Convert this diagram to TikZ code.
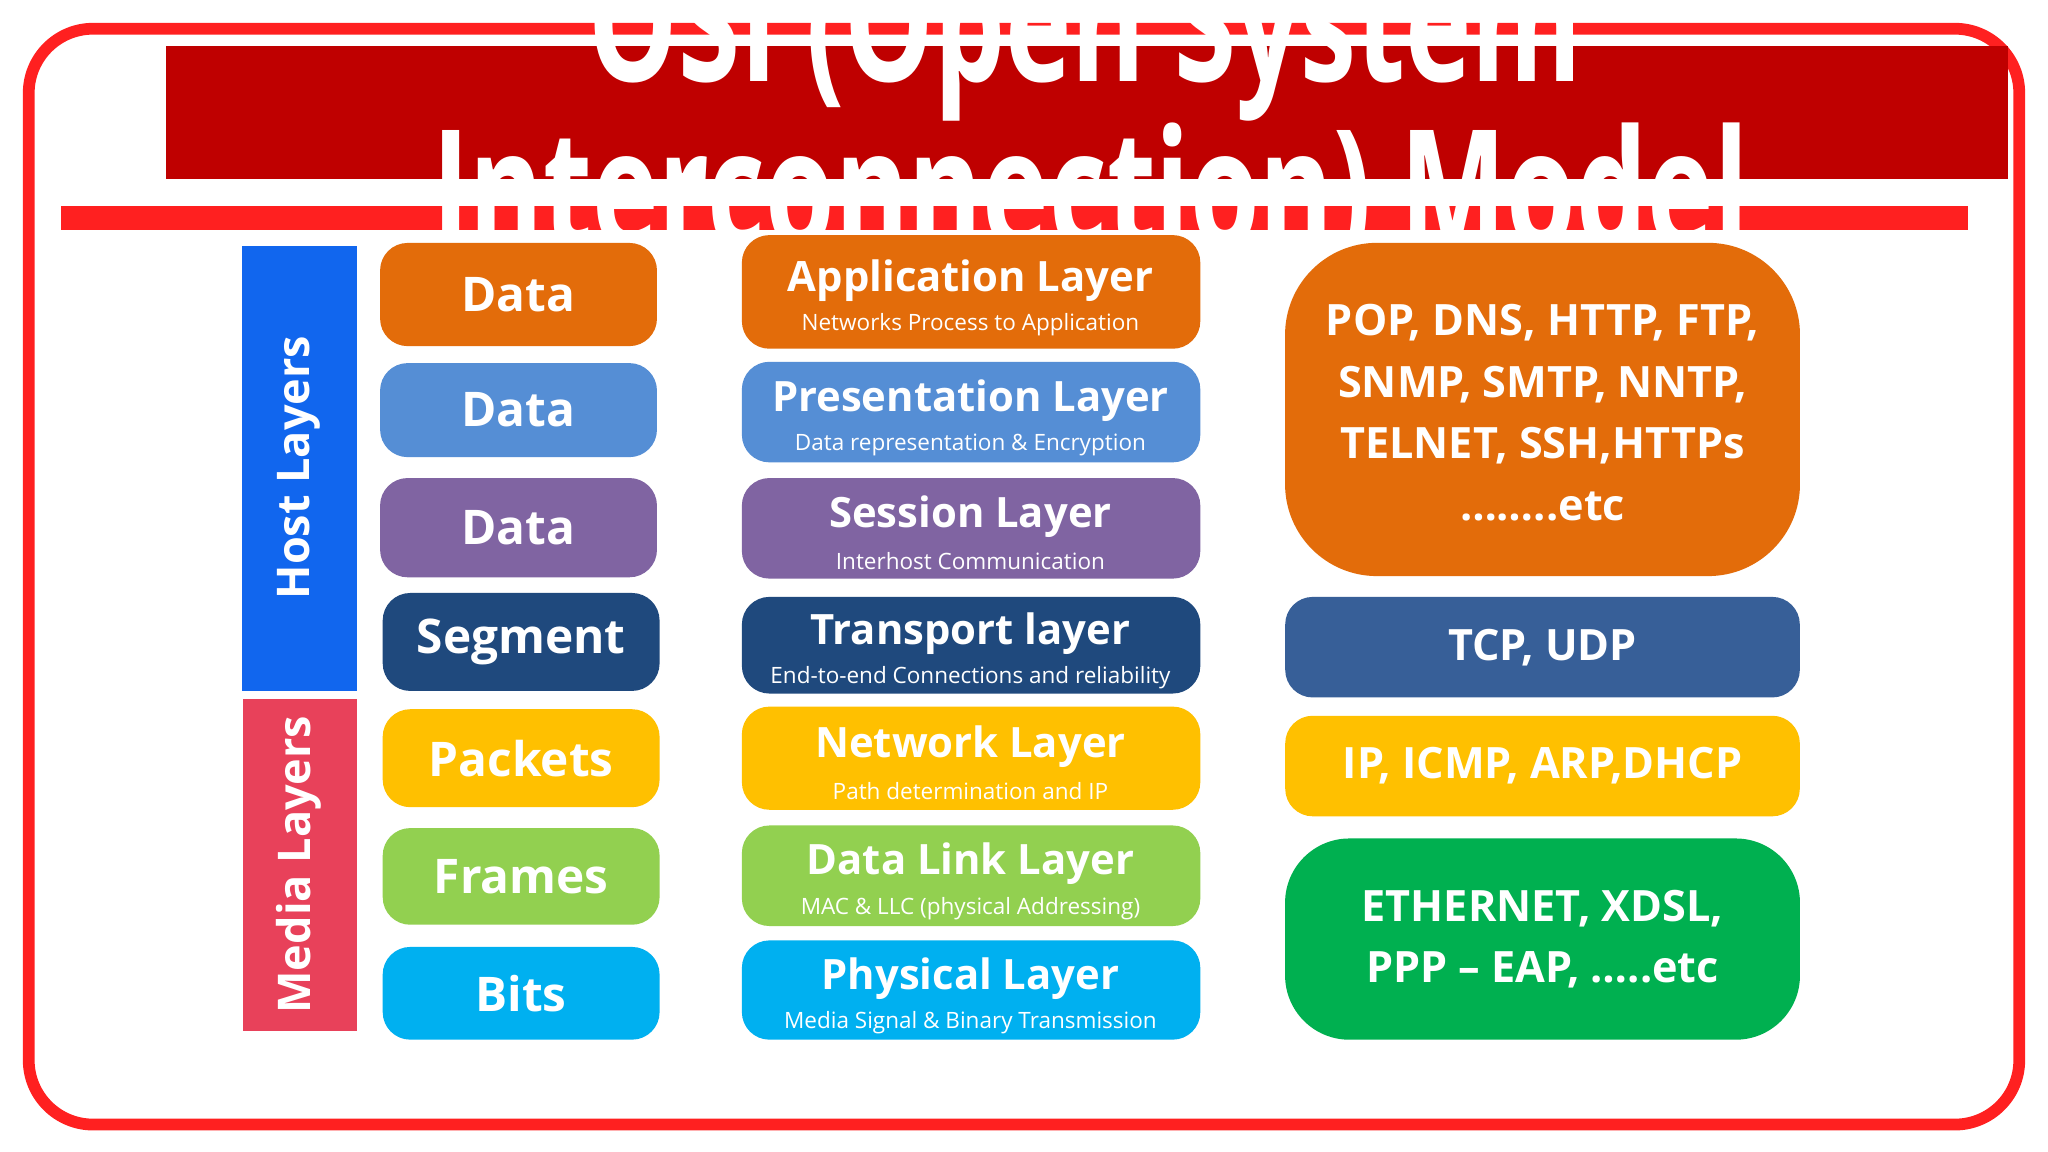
\documentclass[tikz,border=0pt]{standalone}
\usepackage{fontspec}
\setmainfont{Open Sans}
\usepackage{graphicx}
\definecolor{frame}{HTML}{FF2020}
\definecolor{banner}{HTML}{BF0000}
\definecolor{cor}{HTML}{E36C0A}
\definecolor{cbl}{HTML}{558ED5}
\definecolor{cpu}{HTML}{8064A2}
\definecolor{cdb}{HTML}{1F497D}
\definecolor{ctcp}{HTML}{375F98}
\definecolor{cye}{HTML}{FFC000}
\definecolor{cgr}{HTML}{92D050}
\definecolor{ccy}{HTML}{00B0F0}
\definecolor{cgg}{HTML}{00B050}
\definecolor{chost}{HTML}{1166EE}
\definecolor{cmed}{HTML}{E8415A}
\tikzset{
  px/.style={x=0.01cm,y=-0.01cm},
  bx/.style={rounded corners=6pt,text=white,font=\bfseries,align=center,inner sep=0pt},
}
\newcommand{\bxn}[6]{\node[bx,fill=#5,minimum width=#3*0.01cm-#1*0.01cm,minimum height=#4*0.01cm-#2*0.01cm] (#6) at ({(#1+#3)/2},{(#2+#4)/2}) {};}
\begin{document}
\begin{tikzpicture}[px]
\useasboundingbox (0,0) rectangle (1568,882);
\clip (0,0) rectangle (1568,882);
\fill[white] (0,0) rectangle (1568,882);
\draw[frame,line width=0.09cm,rounded corners=14pt] (22,22) rectangle (1546,861);
\fill[banner] (127,35) rectangle (1537,137);
\fill[frame] (47,158) rectangle (1507,176);
\node[text=white,font=\fontsize{36}{40}\selectfont\bfseries] (t1) at (831,32) {\scalebox{0.68}[1.0]{OSI (Open System}};
\node[text=white,font=\fontsize{36}{40}\selectfont\bfseries] (t2) at (835,152) {\scalebox{0.68}[1.0]{Interconnection) Model}};
% side bars
\fill[chost] (185,188) rectangle (273,529);
\node[rotate=90,text=white,font=\fontsize{9.8}{12}\selectfont\bfseries] (host) at (229,358) {Host Layers};
\fill[cmed] (186,535) rectangle (273,789);
\node[rotate=90,text=white,font=\fontsize{9.8}{12}\selectfont\bfseries] (media) at (229,662) {Media Layers};
% left column
\tikzset{lt/.style={text=white,font=\fontsize{10.4}{13}\selectfont\bfseries}}
\bxn{291}{186}{503}{265}{cor}{l1}\node[lt] at (l1) {Data};
\bxn{291}{278}{503}{350}{cbl}{l2}\node[lt] at (l2) {Data};
\bxn{291}{366}{503}{442}{cpu}{l3}\node[lt] at (l3) {Data};
\bxn{293}{454}{505}{529}{cdb}{l4}\node[lt] at (l4) {Segment};
\bxn{293}{543}{505}{618}{cye}{l5}\node[lt] at (l5) {Packets};
\bxn{293}{634}{505}{708}{cgr}{l6}\node[lt] at (l6) {Frames};
\bxn{293}{725}{505}{796}{ccy}{l7}\node[lt] at (l7) {Bits};
% middle column
\tikzset{mt/.style={text=white,font=\fontsize{9.1}{11}\selectfont\bfseries},
         ms/.style={text=white,font=\fontsize{4.9}{6}\selectfont}}
\newcommand{\midbox}[5]{\bxn{568}{#1}{919}{#2}{#3}{m#1}
  \node[mt] at ({743},{(#1+#2)/2-9}) {#4};
  \node[ms] at ({743},{(#1+#2)/2+25}) {#5};}
\midbox{180}{267}{cor}{Application Layer}{Networks Process to Application}
\midbox{277}{354}{cbl}{Presentation Layer}{Data representation \& Encryption}
\midbox{366}{443}{cpu}{Session Layer}{Interhost Communication}
\midbox{457}{531}{cdb}{Transport layer}{End-to-end Connections and reliability}
\midbox{541}{620}{cye}{Network Layer}{Path determination and IP}
\midbox{632}{709}{cgr}{Data Link Layer}{MAC \& LLC (physical Addressing)}
\midbox{720}{796}{ccy}{Physical Layer}{Media Signal \& Binary Transmission}
% right column
\tikzset{rt/.style={text=white,font=\fontsize{9.4}{13.4}\selectfont\bfseries,align=center}}
\node[fill=cor,rounded corners=20pt,minimum width=3.94cm,minimum height=2.55cm] (r1) at (1181,313.5) {};
\node[rt] at (1181,316) {POP, DNS, HTTP, FTP,\\SNMP, SMTP, NNTP,\\TELNET, SSH,HTTPs\\……..etc};
\bxn{984}{457}{1378}{534}{ctcp}{r2}\node[rt] at (r2) {TCP, UDP};
\bxn{984}{548}{1378}{625}{cye}{r3}\node[rt] at (r3) {IP, ICMP, ARP,DHCP};
\node[fill=cgg,rounded corners=14pt,minimum width=3.94cm,minimum height=1.54cm] (r4) at (1181,719) {};
\node[rt] at (r4) {ETHERNET, XDSL,\\PPP – EAP, …..etc};
\end{tikzpicture}
\end{document}
